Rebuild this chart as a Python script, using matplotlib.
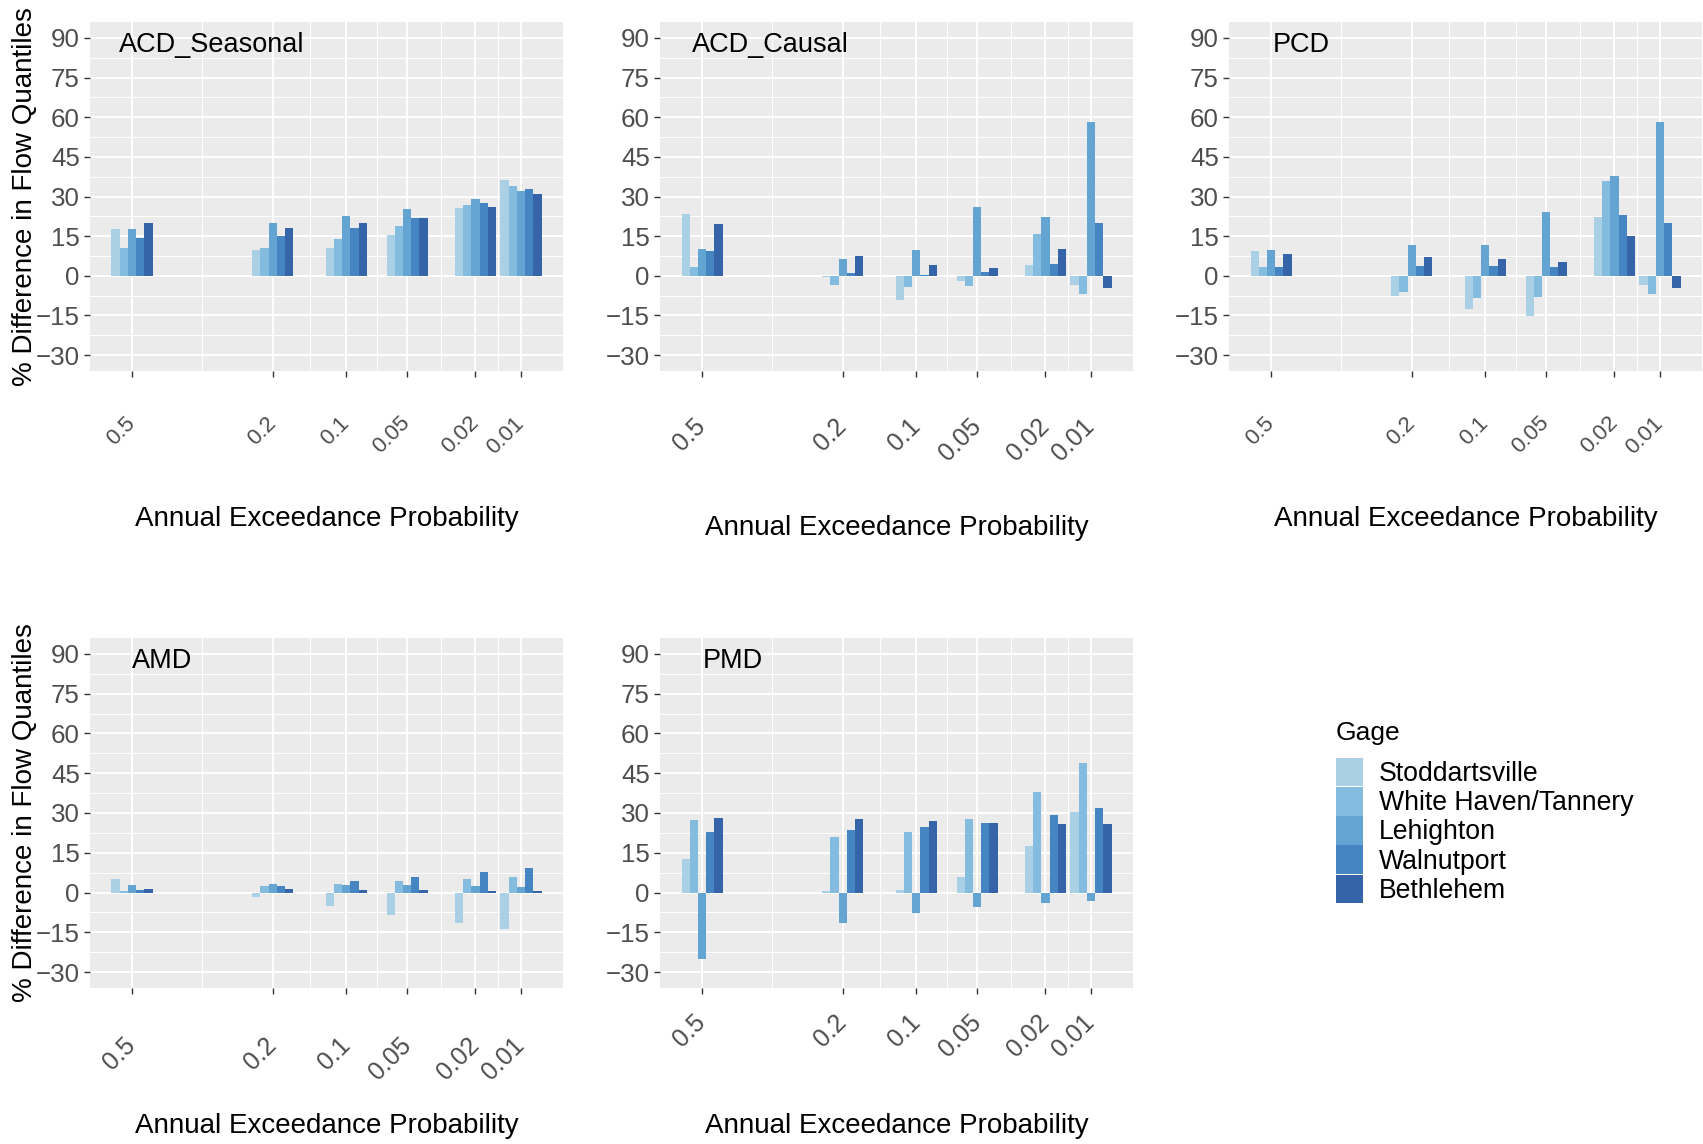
from statistics import NormalDist
import numpy as np
import matplotlib
matplotlib.use("Agg")
import matplotlib.pyplot as plt
from matplotlib.patches import Patch

plt.rcParams['font.family'] = ['Liberation Sans', 'DejaVu Sans']

# annual exceedance probabilities on the x axis
aep = [0.5, 0.2, 0.1, 0.05, 0.02, 0.01]
aep_labels = ["0.5", "0.2", "0.1", "0.05", "0.02", "0.01"]

gages = ["Stoddartsville", "White Haven/Tannery", "Lehighton", "Walnutport", "Bethlehem"]
gage_colors = ["#a9d0e5", "#83bcdf", "#63a4d2", "#4586c2", "#3564a8"]

# % difference in flow quantiles, one row per gage, one column per AEP
acd_seasonal = [
    [17.6, 9.8, 10.7, 15.3, 25.8, 36.1],
    [10.7, 10.5, 13.9, 19.0, 26.6, 33.8],
    [17.6, 19.9, 22.7, 25.3, 28.9, 31.9],
    [14.4, 15.0, 18.0, 21.9, 27.6, 32.8],
    [19.8, 18.2, 19.8, 21.9, 26.2, 30.9],
]
acd_causal = [
    [23.4, -0.3, -9.0, -2.1, 4.2, -3.4],
    [3.2, -3.4, -4.2, -3.8, 15.8, -6.8],
    [10.2, 6.3, 9.7, 26.0, 22.4, 58.0],
    [9.3, 1.0, 0.2, 1.6, 4.4, 19.8],
    [19.5, 7.6, 4.2, 2.9, 10.2, -4.5],
]
pcd = [
    [9.2, -7.6, -12.5, -15.1, 22.4, -3.4],
    [3.4, -6.3, -8.3, -7.9, 35.7, -6.8],
    [9.8, 11.7, 11.7, 24.2, 37.8, 58.0],
    [3.4, 3.7, 3.7, 3.4, 23.1, 19.8],
    [8.1, 7.3, 6.2, 5.2, 15.1, -4.5],
]
amd = [
    [5.2, -1.6, -5.2, -8.3, -11.6, -13.8],
    [0.6, 2.5, 3.4, 4.2, 5.2, 5.8],
    [2.8, 3.1, 3.0, 2.8, 2.5, 2.1],
    [0.8, 2.6, 4.2, 5.7, 7.8, 9.3],
    [1.3, 1.3, 1.1, 1.0, 0.6, 0.4],
]
pmd = [
    [12.8, 0.4, 1.1, 5.9, 17.4, 30.2],
    [27.3, 20.9, 22.7, 27.7, 38.1, 48.7],
    [-24.9, -11.6, -7.6, -5.3, -4.0, -3.3],
    [23.0, 23.7, 24.8, 26.4, 29.2, 31.7],
    [28.2, 27.7, 27.1, 26.4, 25.9, 25.8],
]

W, H = 1703, 1144
fig = plt.figure(figsize=(W / 100, H / 100), dpi=100)

# normal probability scale for AEP
z = np.array([NormalDist().inv_cdf(1 - p) for p in aep])
group_w = 0.9 * np.min(np.diff(z))
bar_w = group_w / len(gages)
lo, hi = z.min() - group_w / 2, z.max() + group_w / 2
xlim = (lo - 0.05 * (hi - lo), hi + 0.05 * (hi - lo))
minor_x = (z[:-1] + z[1:]) / 2


def px_axes(left, top, right, bottom):
    return fig.add_axes([left / W, 1 - bottom / H, (right - left) / W, (bottom - top) / H])


def panel(ax, data, name, name_x, lab_size, lab_pad):
    ax.set_facecolor("#ebebeb")
    for s in ax.spines.values():
        s.set_visible(False)
    for i, vals in enumerate(data):
        ax.bar(z + (i - 2) * bar_w, vals, width=bar_w, color=gage_colors[i],
               linewidth=0, zorder=3)
    ax.set_xlim(*xlim)
    ax.set_ylim(-36, 96)
    ax.set_yticks(np.arange(-30, 91, 15))
    ax.set_yticks(np.arange(-22.5, 90, 15), minor=True)
    ax.set_xticks(z, aep_labels, rotation=45, ha="right", va="center",
                  rotation_mode="anchor", fontsize=lab_size, color="#4d4d4d")
    ax.set_xticks(minor_x, minor=True)
    ax.grid(which="major", color="white", linewidth=1.4, zorder=0)
    ax.grid(which="minor", color="white", linewidth=0.7, zorder=0)
    ax.set_axisbelow(True)
    ax.tick_params(axis="x", which="major", length=4.3, width=1.0, color="#333333", pad=lab_pad)
    ax.tick_params(axis="y", which="major", length=4.3, width=1.0, color="#333333", pad=3,
                   labelsize=18.6, labelcolor="#4d4d4d")
    ax.tick_params(which="minor", length=0)
    ax.text(name_x, 0.933, name, transform=ax.transAxes, fontsize=19.5, va="center", ha="left")


ax1 = px_axes(90, 22, 563, 371)
panel(ax1, acd_seasonal, "ACD_Seasonal", 0.062, 16, 31)
ax2 = px_axes(660, 22, 1133, 371)
panel(ax2, acd_causal, "ACD_Causal", 0.068, 18, 33)
ax3 = px_axes(1229, 22, 1702, 371)
panel(ax3, pcd, "PCD", 0.093, 16, 31)
ax4 = px_axes(90, 638, 563, 988)
panel(ax4, amd, "AMD", 0.088, 18, 34.5)
ax5 = px_axes(660, 638, 1133, 988)
panel(ax5, pmd, "PMD", 0.091, 18, 18)

xtitle = "Annual Exceedance Probability"
fig.text(326.5 / W, 1 - 519 / H, xtitle, fontsize=20, ha="center", va="center")
fig.text(896.5 / W, 1 - 528 / H, xtitle, fontsize=20, ha="center", va="center")
fig.text(1465.5 / W, 1 - 519 / H, xtitle, fontsize=20, ha="center", va="center")
fig.text(326.5 / W, 1 - 1126 / H, xtitle, fontsize=20, ha="center", va="center")
fig.text(896.5 / W, 1 - 1126 / H, xtitle, fontsize=20, ha="center", va="center")

ytitle = "% Difference in Flow Quantiles"
fig.text(25 / W, 1 - 196.5 / H, ytitle, fontsize=20, rotation=90, ha="center", va="center")
fig.text(25 / W, 1 - 813 / H, ytitle, fontsize=20, rotation=90, ha="center", va="center")

# legend for the gages
fig.text(1336 / W, 1 - 733 / H, "Gage", fontsize=19, ha="left", va="center")
handles = [Patch(facecolor=c, edgecolor="none", label=g) for g, c in zip(gages, gage_colors)]
leg = fig.legend(handles=handles, loc="upper left",
                 bbox_to_anchor=(1336 / W, 1 - 758 / H), frameon=False,
                 fontsize=19.2, borderpad=0, borderaxespad=0,
                 handlelength=1.02, handleheight=1.26, handletextpad=0.6,
                 labelspacing=0.0)

fig.savefig("out.png", dpi=100)
